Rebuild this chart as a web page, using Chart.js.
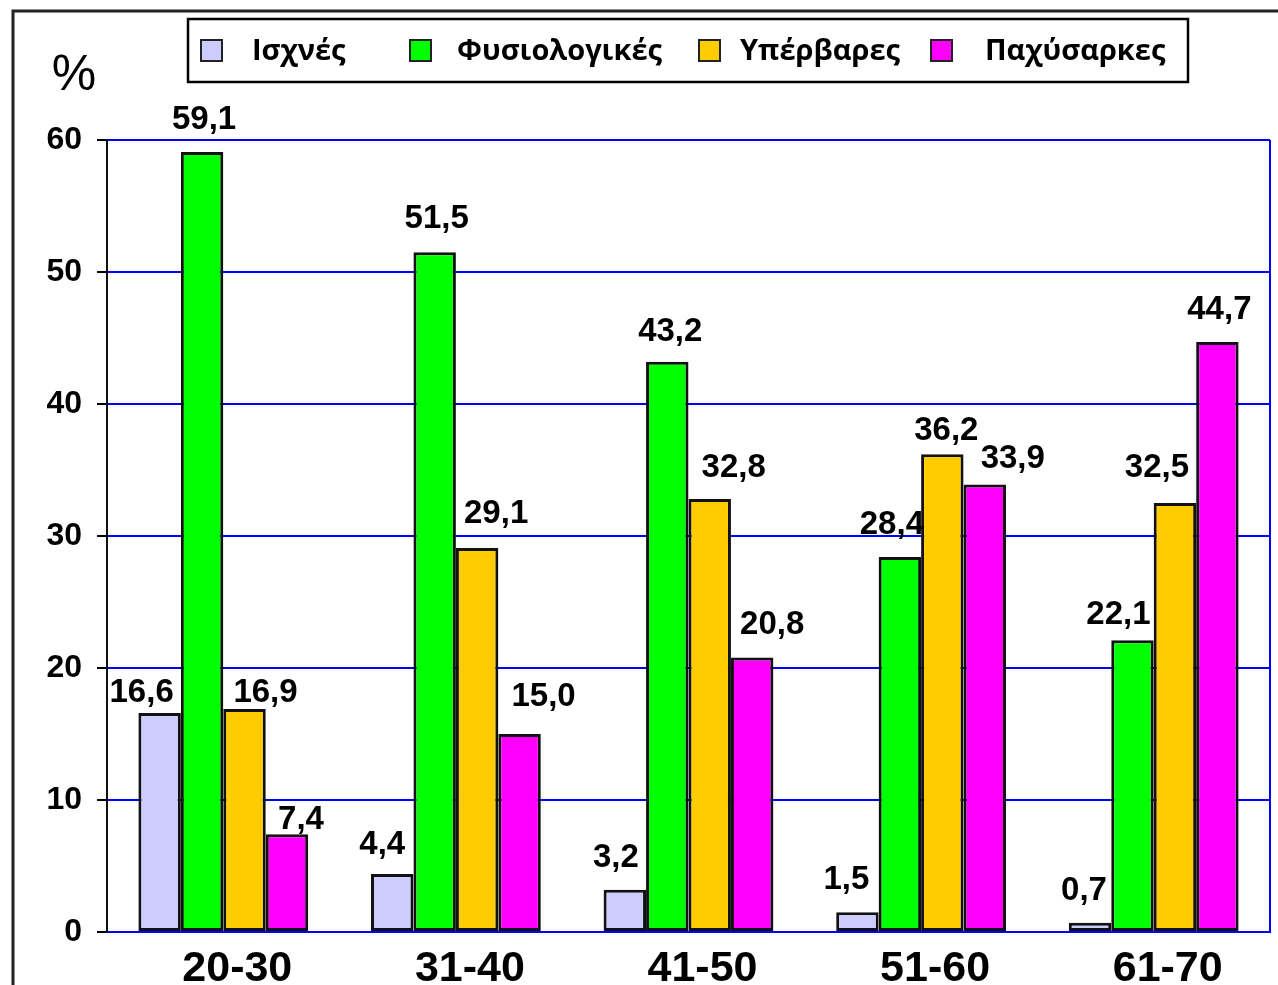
<!DOCTYPE html>
<html>
<head>
<meta charset="utf-8">
<script src="https://cdn.jsdelivr.net/npm/chart.js@4.4.0/dist/chart.umd.min.js"></script>
<style>
  html, body { margin: 0; padding: 0; background: #fff; }
  #wrap { width: 1278px; height: 985px; }
</style>
</head>
<body>
<div id="wrap"><canvas id="bmi" width="1278" height="985"></canvas></div>
<script>
const ageGroups = ['20-30', '31-40', '41-50', '51-60', '61-70'];
const seriesNames = ['Ισχνές', 'Φυσιολογικές', 'Υπέρβαρες', 'Παχύσαρκες'];
const underweight = [16.6, 4.4, 3.2, 1.5, 0.7];
const normal = [59.1, 51.5, 43.2, 28.4, 22.1];
const overweight = [16.9, 29.1, 32.8, 36.2, 32.5];
const obese = [7.4, 15.0, 20.8, 33.9, 44.7];
const yTicks = [0, 10, 20, 30, 40, 50, 60];

const colors = ['#CCCCFF', '#00FF00', '#FFCC00', '#FF00FF'];

// the value labels were dragged around by hand in the original,
// so keep a small nudge per label: [dx, gap above bar]
const labelNudge = [
    [[-18, 11], [-10, 20], [-9, 23], [-11, 23], [-6, 23]],
    [[2, 23], [2, 24], [3, 21], [-8, 23], [-14, 16]],
    [[21, 7], [19, 25], [24, 22], [4, 14], [-18, 26]],
    [[14, 5], [24, 28], [20, 23], [28, 17], [2, 23]]
];

const ctx = document.getElementById('bmi').getContext('2d');

// frame, legend box, % sign, right border and the value labels
const decorations = {
    id: 'decorations',
    beforeDraw(chart) {
        const c = chart.ctx;
        c.save();
        c.fillStyle = '#fff';
        c.fillRect(0, 0, chart.width, chart.height);
        c.strokeStyle = '#222';
        c.lineWidth = 3;
        c.beginPath();
        c.moveTo(13, chart.height);
        c.lineTo(13, 11);
        c.lineTo(chart.width, 11);
        c.stroke();
        c.restore();
    },
    afterDraw(chart) {
        const c = chart.ctx;
        const area = chart.chartArea;
        c.save();

        // right edge of plot area
        c.strokeStyle = '#0000FF';
        c.lineWidth = 2;
        c.beginPath();
        c.moveTo(area.right, area.top);
        c.lineTo(area.right, area.bottom);
        c.stroke();

        // % sign
        c.fillStyle = '#000';
        c.font = '50px "Liberation Sans", Arial, sans-serif';
        c.textAlign = 'center';
        c.textBaseline = 'alphabetic';
        c.fillText('%', 74, 90);

        // legend
        c.lineWidth = 2.5;
        c.strokeStyle = '#000';
        c.strokeRect(188, 19, 1000, 63);
        const boxX = [201, 410, 699, 931];
        const textX = [252, 457, 740, 985];
        c.font = 'bold 29px "Open Sans", "Noto Sans", sans-serif';
        c.textAlign = 'left';
        c.textBaseline = 'middle';
        seriesNames.forEach((name, i) => {
            c.fillStyle = colors[i];
            c.fillRect(boxX[i], 40, 21, 21);
            c.lineWidth = 2;
            c.strokeStyle = '#222';
            c.strokeRect(boxX[i], 40, 21, 21);
            c.fillStyle = '#000';
            c.fillText(name, textX[i], 52);
        });

        // value labels
        c.font = 'bold 33px "Liberation Sans", Arial, sans-serif';
        c.textAlign = 'center';
        c.textBaseline = 'alphabetic';
        chart.data.datasets.forEach((ds, i) => {
            const meta = chart.getDatasetMeta(i);
            meta.data.forEach((bar, j) => {
                const txt = ds.data[j].toFixed(1).replace('.', ',');
                const [dx, gap] = labelNudge[i][j];
                c.fillText(txt, bar.x + dx, bar.y - gap);
            });
        });
        c.restore();
    }
};

const bmiChart = new Chart(ctx, {
    type: 'bar',
    data: {
        labels: ageGroups,
        datasets: [underweight, normal, overweight, obese].map((vals, i) => ({
            label: seriesNames[i],
            data: vals,
            backgroundColor: colors[i],
            borderColor: '#111',
            borderWidth: 3,
            borderSkipped: false,
            categoryPercentage: 0.73,
            barPercentage: 1.0
        }))
    },
    options: {
        responsive: false,
        animation: false,
        layout: { padding: { top: 140, right: 8, left: 0, bottom: 0 } },
        plugins: {
            legend: { display: false },
            tooltip: { enabled: false }
        },
        scales: {
            x: {
                grid: { display: false },
                border: { display: true, color: '#0000FF', width: 2 },
                ticks: {
                    color: '#000',
                    padding: 3,
                    labelOffset: 14,
                    font: { family: '"Liberation Sans", Arial, sans-serif', size: 43, weight: 'bold' }
                },
                afterFit(scale) { scale.height = 53; }
            },
            y: {
                min: 0,
                max: 60,
                afterBuildTicks(scale) { scale.ticks = yTicks.map(v => ({ value: v })); },
                grid: {
                    color: '#0000FF',
                    lineWidth: 2,
                    tickColor: '#000',
                    tickLength: 10
                },
                border: { display: true, color: '#111', width: 2 },
                ticks: {
                    color: '#000',
                    padding: 15,
                    font: { family: '"Liberation Sans", Arial, sans-serif', size: 32, weight: 'bold' }
                },
                afterFit(scale) { scale.width = 107; }
            }
        }
    },
    plugins: [decorations]
});
</script>
</body>
</html>
